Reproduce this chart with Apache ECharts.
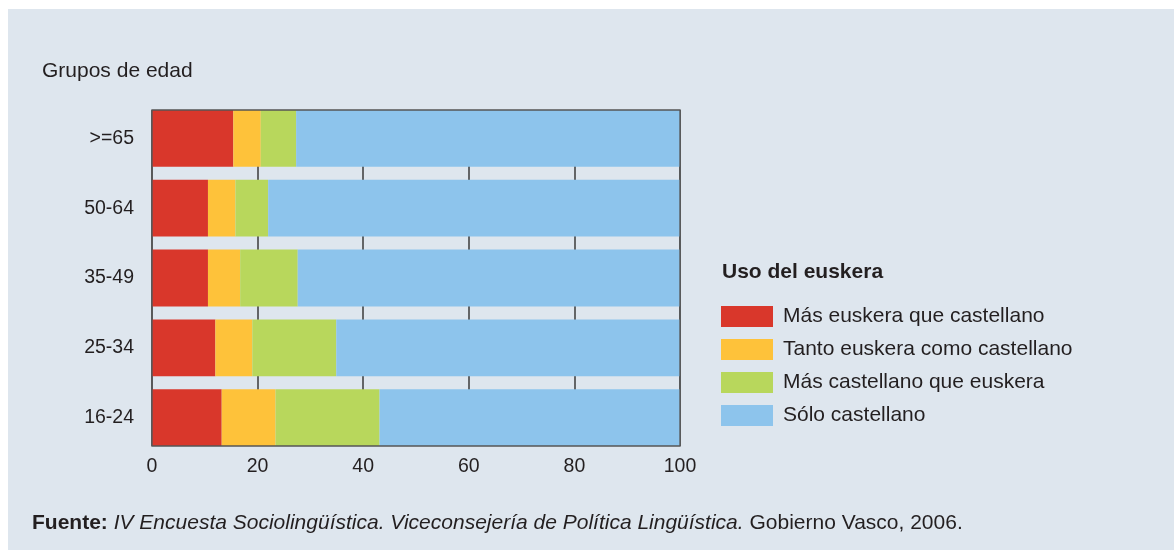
<!DOCTYPE html>
<html>
<head>
<meta charset="utf-8">
<script src="https://cdn.jsdelivr.net/npm/echarts@6/dist/echarts.min.js"></script>
<style>
  html, body { margin: 0; padding: 0; background: #ffffff; }
  #wrap { position: relative; width: 1174px; height: 550px; overflow: hidden; }
  #chart { position: absolute; left: 8px; top: 9px; width: 1166px; height: 541px; background: #dee6ee; }
</style>
</head>
<body>
<div id="wrap"><div id="chart"></div></div>
<script>
// grupos de edad, de arriba abajo
const grupos = ['>=65', '50-64', '35-49', '25-34', '16-24'];

const masEuskera = [15.4, 10.6, 10.6, 12.0, 13.2];
const tanto = [5.2, 5.2, 6.1, 7.0, 10.2];
const masCastellano = [6.7, 6.2, 10.9, 15.9, 19.7];
const soloCastellano = [72.7, 78.0, 72.4, 65.1, 56.9];

const xTicks = [0, 20, 40, 60, 80, 100];

const nombres = [
    'Más euskera que castellano',
    'Tanto euskera como castellano',
    'Más castellano que euskera',
    'Sólo castellano'
];
const colores = ['#d9372b', '#fec23a', '#b8d75c', '#8dc4ec'];

const chart = echarts.init(document.getElementById('chart'));
const txt = '#231f20';
const fuente = 'Liberation Sans, Arial, sans-serif';

// el marco va de y=110 a y=446 (coordenadas de página); el chart empieza en (8,9)
const ox = 8, oy = 9;
const frameTop = 110 - oy, frameH = 336;
const hueco = 13;
const paso = (frameH + hueco) / grupos.length;

const datos = [masEuskera, tanto, masCastellano, soloCastellano];

chart.setOption({
    animation: false,
    textStyle: { fontFamily: fuente },
    title: [
        {
            text: 'Grupos de edad', left: 42 - ox, top: 61 - oy, padding: 0,
            textStyle: { fontSize: 21, fontWeight: 'normal', color: txt, fontFamily: fuente }
        },
        {
            text: 'Uso del euskera', left: 722 - ox, top: 262 - oy, padding: 0,
            textStyle: { fontSize: 21, fontWeight: 'bold', color: txt, fontFamily: fuente }
        },
        {
            text: '{b|Fuente:} {i|IV Encuesta Sociolingüística. Viceconsejería de Política Lingüística.} Gobierno Vasco, 2006.',
            left: 32 - ox, top: 513 - oy, padding: 0,
            textStyle: {
                fontSize: 21, fontWeight: 'normal', color: txt, fontFamily: fuente,
                rich: {
                    b: { fontSize: 21, fontWeight: 'bold', color: txt, fontFamily: fuente },
                    i: { fontSize: 21, fontStyle: 'italic', color: txt, fontFamily: fuente }
                }
            }
        }
    ],
    legend: {
        orient: 'vertical',
        left: 721 - ox, top: 306 - oy, padding: 0,
        itemWidth: 52, itemHeight: 21, itemGap: 12,
        icon: 'rect',
        selectedMode: false,
        data: nombres,
        textStyle: { fontSize: 21, color: txt, fontFamily: fuente, padding: [0, 0, 0, 5] }
    },
    grid: [
        {   // marco y líneas verticales
            left: 152 - ox, width: 528, top: frameTop, height: frameH,
            show: true, borderColor: '#555555', borderWidth: 1.3,
            backgroundColor: 'transparent', z: 5
        },
        {   // barras
            left: 152 - ox, width: 528, top: frameTop - hueco / 2, height: paso * grupos.length
        }
    ],
    xAxis: [
        {
            gridIndex: 0, type: 'value', min: 0, max: 100, interval: 20,
            axisLine: { show: false }, axisTick: { show: false },
            splitLine: { show: true, lineStyle: { color: '#3a3a3a', width: 1.5 } },
            axisLabel: {
                fontSize: 19.5, color: txt, margin: 11, fontFamily: fuente,
                formatter: v => xTicks.includes(v) ? String(v) : ''
            }
        },
        { gridIndex: 1, type: 'value', min: 0, max: 100, show: false }
    ],
    yAxis: [
        { gridIndex: 0, type: 'value', show: false },
        {
            gridIndex: 1, type: 'category', data: grupos, inverse: true,
            axisLine: { show: false }, axisTick: { show: false },
            splitLine: { show: false },
            axisLabel: { fontSize: 19.5, color: txt, margin: 18, fontFamily: fuente }
        }
    ],
    series: nombres.map((n, i) => ({
        name: n,
        type: 'bar',
        stack: 'total',
        xAxisIndex: 1,
        yAxisIndex: 1,
        barCategoryGap: (hueco / paso * 100) + '%',
        itemStyle: { color: colores[i] },
        data: datos[i]
    }))
});
</script>
</body>
</html>
